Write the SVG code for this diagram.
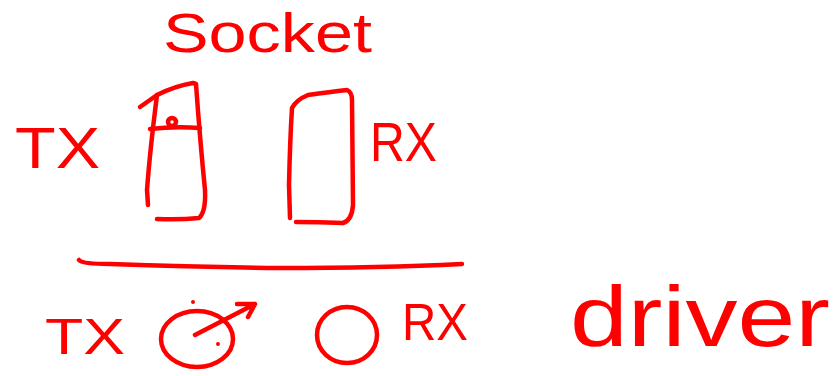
<svg xmlns="http://www.w3.org/2000/svg" width="833" height="376" viewBox="0 0 833 376">
<style>
.s{fill:none;stroke:#ff0000;stroke-width:4.5;stroke-linecap:round;stroke-linejoin:round}
.t{fill:#ff0000;font-family:"Liberation Sans",Arial,sans-serif}
.d{fill:#ff0000}
</style>
<rect width="833" height="376" fill="#ffffff"/>
<g id="socket-title">
<text class="t" x="163" y="52" font-size="56" textLength="209" lengthAdjust="spacingAndGlyphs">Socket</text>
</g>
<g id="tx-label-top">
<text class="t" x="15" y="168" font-size="58" textLength="85" lengthAdjust="spacingAndGlyphs">TX</text>
</g>
<g id="tx-socket">
<path class="s" d="M140,107 L157,95 Q175,86 193,83 L196,84 Q200,140 205,190 Q206,212 199,218 Q180,220 157,219"/>
<path class="s" d="M157,95 Q150,150 147,190 L148,205"/>
<path class="s" d="M150,129 Q175,126 200,128"/>
<circle class="s" cx="172" cy="122" r="4"/>
</g>
<g id="rx-socket">
<path class="s" d="M290,218 L289,185 Q290,140 292,108 Q296,100 308,95 Q330,92 347,90 Q352,92 352,100 L353,205 Q352,220 343,223 Q320,222 296,222"/>
</g>
<g id="rx-label-top">
<text class="t" x="370" y="161" font-size="56" textLength="67" lengthAdjust="spacingAndGlyphs">RX</text>
</g>
<g id="connectors">
<path class="s" d="M79,260 Q82,264 110,264 Q200,267 280,268 Q380,268 462,264"/>
<path class="s" d="M195,335 L255,304 M237,304 L255,304 L248,317"/>
</g>
<g id="tx-driver">
<ellipse class="s" cx="197" cy="339" rx="36" ry="28"/>
<circle class="d" cx="193" cy="302" r="2"/>
<circle class="d" cx="218" cy="344" r="2"/>
</g>
<g id="tx-label-bottom">
<text class="t" x="45" y="354" font-size="50" textLength="80" lengthAdjust="spacingAndGlyphs">TX</text>
</g>
<g id="rx-driver">
<ellipse class="s" cx="347" cy="335" rx="30" ry="28"/>
</g>
<g id="rx-label-bottom">
<text class="t" x="402" y="340" font-size="52" textLength="66" lengthAdjust="spacingAndGlyphs">RX</text>
</g>
<g id="driver-label">
<text class="t" x="570" y="346" font-size="86" textLength="260" lengthAdjust="spacingAndGlyphs">driver</text>
</g>
</svg>
